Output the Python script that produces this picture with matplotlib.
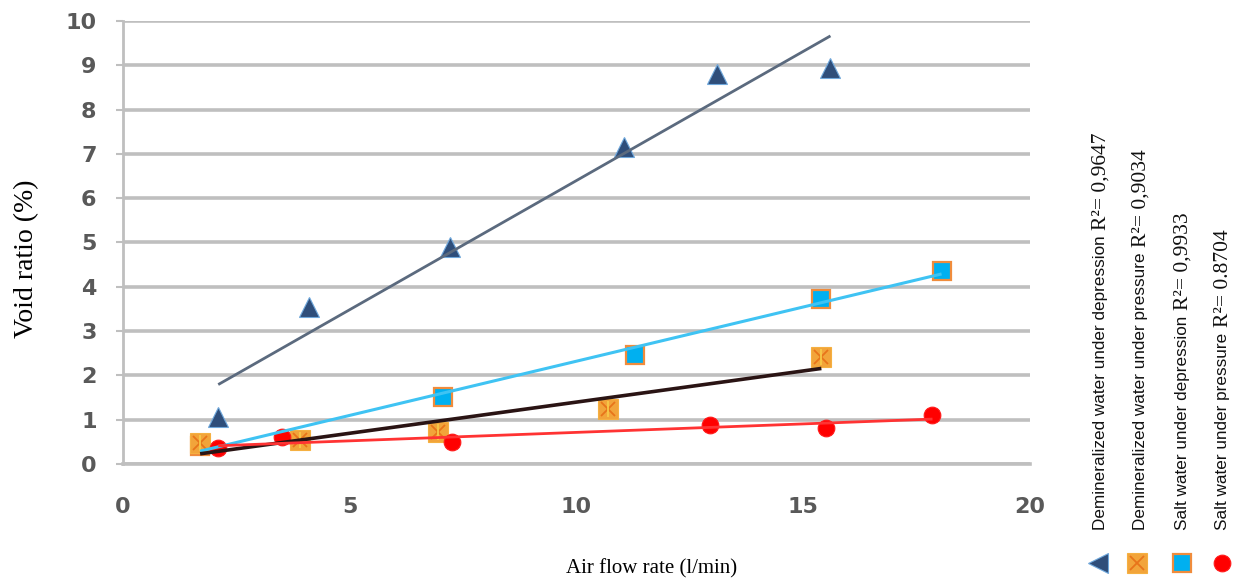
import numpy as np
import matplotlib
matplotlib.use("Agg")
import matplotlib.pyplot as plt

# ---------------- data ----------------
dem_dep_x = [2.1, 4.1, 7.2, 11.05, 13.1, 15.6]
dem_dep_y = [1.05, 3.55, 4.9, 7.15, 8.8, 8.95]

dem_pres_x = [1.7, 3.9, 6.95, 10.7, 15.4]
dem_pres_y = [0.47, 0.54, 0.72, 1.24, 2.42]

salt_dep_x = [1.7, 7.05, 11.3, 15.4, 18.05]
salt_dep_y = [0.4, 1.52, 2.47, 3.72, 4.35]

salt_pres_x = [2.1, 3.5, 7.25, 12.95, 15.5, 17.85]
salt_pres_y = [0.36, 0.61, 0.49, 0.88, 0.81, 1.1]

legend_labels = ["Demineralized water under depression ",
                 "Demineralized water under pressure ",
                 "Salt water under depression ",
                 "Salt water under pressure "]
legend_r2 = ["R\u00b2= 0,9647", "R\u00b2= 0,9034", "R\u00b2= 0,9933", "R\u00b2= 0.8704"]

x_ticks = [0, 5, 10, 15, 20]
y_ticks = list(range(0, 11))
x_label = "Air flow rate (l/min)"
y_label = "Void ratio (%)"

# ---------------- figure ----------------
W, H = 1238, 582
fig = plt.figure(figsize=(W / 100, H / 100), dpi=100)


def fx(px):
    return px / W


def fy(py):
    return 1 - py / H


ax = fig.add_axes([fx(123), fy(464), fx(1030) - fx(123), fy(21) - fy(464)])
ax.set_xlim(0, 20)
ax.set_ylim(0, 10)

grid_c = "#BFBFBF"
ax.set_yticks(y_ticks)
ax.set_xticks(x_ticks)
ax.yaxis.grid(True, color=grid_c, lw=2.6, zorder=0)
ax.set_axisbelow(True)
for s in ["top", "right"]:
    ax.spines[s].set_visible(False)
ax.spines["left"].set_color(grid_c)
ax.spines["left"].set_linewidth(2)
ax.spines["bottom"].set_color(grid_c)
ax.spines["bottom"].set_linewidth(2.6)
ax.tick_params(axis="y", length=5, width=1.5, color=grid_c, pad=14,
               labelsize=16, labelcolor="#595959")
ax.tick_params(axis="x", length=0, pad=24, labelsize=16, labelcolor="#595959")
for lab in ax.get_xticklabels() + ax.get_yticklabels():
    lab.set_fontweight("bold")
    lab.set_family("DejaVu Sans")


def trend(xs, ys, color, lw, z=5):
    xs = np.asarray(xs, float)
    ys = np.asarray(ys, float)
    k, b = np.polyfit(xs, ys, 1)
    xx = np.array([xs.min(), xs.max()])
    ax.plot(xx, k * xx + b, color=color, lw=lw, zorder=z, solid_capstyle="butt")


# markers
ax.plot(dem_dep_x, dem_dep_y, ls="none", marker="^", ms=14, mfc="#2F4E7A",
        mec="#6FA8DC", mew=0.8, zorder=3)
ax.plot(salt_dep_x, salt_dep_y, ls="none", marker="s", ms=13, mfc="#00B0F0",
        mec="#F08C3C", mew=1.6, zorder=3)
ax.plot(dem_pres_x, dem_pres_y, ls="none", marker="s", ms=14, mfc="#F2A43A",
        mec="#F5B041", mew=0.8, zorder=3.2)
ax.plot(dem_pres_x, dem_pres_y, ls="none", marker="x", ms=10, mec="#E8741A",
        mew=1.3, zorder=3.3)
ax.plot(dem_pres_x, dem_pres_y, ls="none", marker="|", ms=12, mec="#F7C948",
        mew=1.3, zorder=3.3)
ax.plot(salt_pres_x, salt_pres_y, ls="none", marker="o", ms=12, mfc="#FF0000",
        mec="#FF1A1A", mew=0.8, zorder=3.4)

# trend lines
trend(dem_dep_x, dem_dep_y, "#5B6A7E", 2.0)
trend(salt_dep_x, salt_dep_y, "#3FC3F3", 2.2)
trend(dem_pres_x, dem_pres_y, "#2A1414", 2.6)
trend(salt_pres_x, salt_pres_y, "#FF3333", 2.0)

# axis labels
fig.text(fx(27), fy(259), y_label, rotation=90, ha="center", va="center",
         family="Liberation Serif", fontsize=20)
fig.text(fx(652), fy(569), x_label, ha="center", va="center",
         family="Liberation Serif", fontsize=15)

# legend (rotated)
leg_x = [1101, 1141, 1183, 1223]
mark_x = [1098, 1137, 1182, 1222]
fig.canvas.draw()
renderer = fig.canvas.get_renderer()
for i in range(4):
    t = fig.text(fx(leg_x[i]), fy(530), legend_labels[i], rotation=90,
                 rotation_mode="anchor", ha="left", va="center",
                 family="Liberation Sans", fontsize=12.3, color="#111111")
    bb = t.get_window_extent(renderer=renderer)
    top_px = H - bb.y1
    fig.text(fx(leg_x[i]), fy(top_px - 1), legend_r2[i], rotation=90,
             rotation_mode="anchor", ha="left", va="center",
             family="Liberation Serif", fontsize=15.5, color="#111111")

lax = fig.add_axes([0, 0, 1, 1], facecolor="none")
lax.set_xlim(0, W)
lax.set_ylim(H, 0)
lax.axis("off")
lax.plot([mark_x[0]], [563], marker="<", ms=14, mfc="#2F4E7A", mec="#6FA8DC",
         mew=0.8, ls="none")
lax.plot([mark_x[1]], [563], marker="s", ms=14, mfc="#F2A43A", mec="#F5B041",
         mew=0.8, ls="none")
lax.plot([mark_x[1]], [563], marker="x", ms=10, mec="#E8741A", mew=1.3, ls="none")
lax.plot([mark_x[2]], [563], marker="s", ms=13, mfc="#00B0F0", mec="#F08C3C",
         mew=1.6, ls="none")
lax.plot([mark_x[3]], [563], marker="o", ms=12, mfc="#FF0000", mec="#FF1A1A",
         mew=0.8, ls="none")

fig.savefig("out.png", dpi=100)
